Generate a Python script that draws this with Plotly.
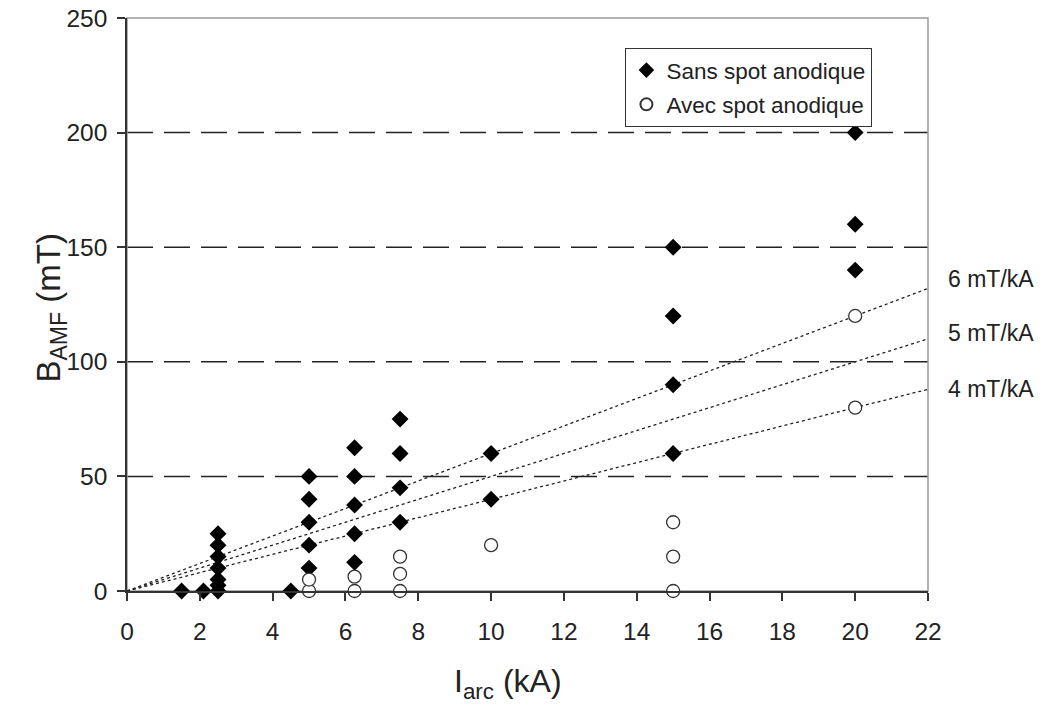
import plotly.graph_objects as go

# Sans spot anodique (filled diamonds)
sans_x = [1.5, 2.1, 2.5, 2.5, 2.5, 2.5, 2.5, 2.5, 2.5, 4.5,
          5, 5, 5, 5, 5, 6.25, 6.25, 6.25, 6.25, 6.25,
          7.5, 7.5, 7.5, 7.5, 10, 10, 15, 15, 15, 15, 20, 20, 20]
sans_y = [0, 0, 0, 2.5, 5, 10, 15, 20, 25, 0,
          10, 20, 30, 40, 50, 12.5, 25, 37.5, 50, 62.5,
          30, 45, 60, 75, 40, 60, 60, 90, 120, 150, 140, 160, 200]

# Avec spot anodique (open circles)
avec_x = [5, 5, 6.25, 6.25, 7.5, 7.5, 7.5, 10, 15, 15, 15, 20, 20]
avec_y = [0, 5, 0, 6.25, 0, 7.5, 15, 20, 0, 15, 30, 80, 120]

slopes = [6, 5, 4]
slope_labels = ["6 mT/kA", "5 mT/kA", "4 mT/kA"]
label_y = [136, 112.5, 88]
grid_y = [50, 100, 150, 200]
x_max = 22

font = "Arial, Liberation Sans, sans-serif"

fig = go.Figure()

for s in slopes:
    fig.add_trace(go.Scatter(x=[0, x_max], y=[0, s * x_max], mode="lines",
                             line=dict(color="#222", width=1.3, dash="dot"),
                             showlegend=False, hoverinfo="skip"))

fig.add_trace(go.Scatter(x=sans_x, y=sans_y, mode="markers", name="Sans spot anodique",
                         legendgroup="a",
                         marker=dict(symbol="diamond", size=13, color="black",
                                     line=dict(width=0)),
                         cliponaxis=False))
fig.add_trace(go.Scatter(x=avec_x, y=avec_y, mode="markers", name="Avec spot anodique",
                         legendgroup="b",
                         marker=dict(symbol="circle", size=13, color="white",
                                     line=dict(width=1.3, color="#333")),
                         cliponaxis=False))

for g in grid_y:
    fig.add_hline(y=g, line=dict(color="#222", width=1.5, dash="26px,11px"), layer="below")

# grey plot area border
fig.add_shape(type="rect", xref="paper", yref="paper", x0=0, y0=0, x1=1, y1=1,
              line=dict(color="#999", width=1.5), layer="below")

for lab, ly in zip(slope_labels, label_y):
    fig.add_annotation(x=x_max, y=ly, text=lab, showarrow=False, xanchor="left",
                       xshift=18, font=dict(size=23, color="#222", family=font))

fig.add_annotation(x=-0.124, y=0.494, xref="paper", yref="paper", textangle=-90,
                   text="B<sub>AMF</sub> (mT)", showarrow=False,
                   font=dict(size=33, color="#222", family=font))
fig.add_annotation(x=0.476, y=-0.162, xref="paper", yref="paper",
                   text="I<sub>arc</sub> (kA)", showarrow=False, yanchor="middle",
                   font=dict(size=32, color="#222", family=font))

fig.update_xaxes(range=[0, x_max], dtick=2, showgrid=False, zeroline=False,
                 showline=True, linecolor="#333", linewidth=1.5,
                 ticks="outside", ticklen=8, tickcolor="#333", tickwidth=1.5,
                 ticklabelstandoff=10, ticklabeloverflow="allow", automargin=False,
                 tickfont=dict(size=24.5, color="#222", family=font))
fig.update_yaxes(range=[0, 250], dtick=50, showgrid=False, zeroline=False,
                 showline=True, linecolor="#333", linewidth=1.5,
                 ticks="outside", ticklen=8, tickcolor="#333", tickwidth=1.5,
                 ticklabelstandoff=5, ticklabeloverflow="allow", automargin=False,
                 tickfont=dict(size=24.5, color="#222", family=font))

fig.update_layout(
    width=1051, height=706,
    margin=dict(l=127, r=123, t=18, b=115),
    plot_bgcolor="white", paper_bgcolor="white",
    font=dict(family=font),
    legend=dict(x=0.622, y=0.948, xanchor="left", yanchor="top",
                bordercolor="#333", borderwidth=1.2, bgcolor="white",
                font=dict(size=22.5, color="#222", family=font),
                itemsizing="constant", tracegroupgap=2),
)

# drop the default page margin so the figure sits at the window corner
fig.write_html("out.html", config={"displayModeBar": False},
               post_script="document.body.style.margin='0';")
